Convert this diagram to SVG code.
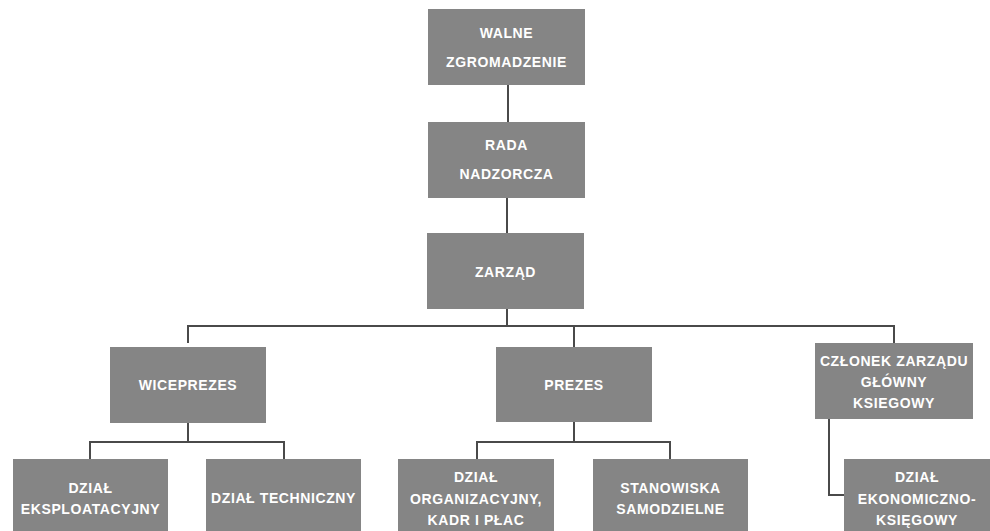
<svg xmlns="http://www.w3.org/2000/svg" width="990" height="531" viewBox="0 0 990 531">
<style>
.box{fill:#858585;}
.t{fill:#ffffff;font-family:"Liberation Sans",Arial,sans-serif;font-weight:bold;font-size:14px;letter-spacing:0.6px;text-anchor:middle;}
.c{fill:none;stroke:#4a4a4a;stroke-width:2;}
</style>
<rect width="990" height="531" fill="#ffffff"/>
<g id="connectors">
<path class="c" d="M508 85V122"/>
<path class="c" d="M507 198V233"/>
<path class="c" d="M507 309V326"/>
<path class="c" d="M188 343V326H894V343"/>
<path class="c" d="M574 326V347"/>
<path class="c" d="M188 423V442"/>
<path class="c" d="M90 459V442H284V459"/>
<path class="c" d="M574 422V442"/>
<path class="c" d="M477 459V442H670V459"/>
<path class="c" d="M829 419V495H844"/>
</g>
<g id="walne">
<rect class="box" x="428" y="9" width="157" height="76"/>
<text class="t" x="506.5" y="38">WALNE</text>
<text class="t" x="506.5" y="67">ZGROMADZENIE</text>
</g>
<g id="rada">
<rect class="box" x="428" y="122" width="157" height="76"/>
<text class="t" x="506.5" y="150">RADA</text>
<text class="t" x="506.5" y="179">NADZORCZA</text>
</g>
<g id="zarzad">
<rect class="box" x="427" y="233" width="157" height="76"/>
<text class="t" x="505.5" y="277">ZARZĄD</text>
</g>
<g id="wiceprezes">
<rect class="box" x="110" y="347" width="156" height="76"/>
<text class="t" x="188" y="390">WICEPREZES</text>
</g>
<g id="prezes">
<rect class="box" x="496" y="347" width="156" height="75"/>
<text class="t" x="574" y="390">PREZES</text>
</g>
<g id="czlonek">
<rect class="box" x="815" y="343" width="158" height="76"/>
<text class="t" x="894" y="366">CZŁONEK ZARZĄDU</text>
<text class="t" x="894" y="387">GŁÓWNY</text>
<text class="t" x="894" y="408">KSIEGOWY</text>
</g>
<g id="eksploatacyjny">
<rect class="box" x="13" y="459" width="155" height="80"/>
<text class="t" x="90.5" y="493">DZIAŁ</text>
<text class="t" x="90.5" y="514">EKSPLOATACYJNY</text>
</g>
<g id="techniczny">
<rect class="box" x="206" y="459" width="155" height="80"/>
<text class="t" x="283.5" y="503">DZIAŁ TECHNICZNY</text>
</g>
<g id="organizacyjny">
<rect class="box" x="398" y="459" width="156" height="80"/>
<text class="t" x="476" y="482">DZIAŁ</text>
<text class="t" x="476" y="504">ORGANIZACYJNY,</text>
<text class="t" x="476" y="525">KADR I PŁAC</text>
</g>
<g id="stanowiska">
<rect class="box" x="593" y="459" width="155" height="80"/>
<text class="t" x="670.5" y="493">STANOWISKA</text>
<text class="t" x="670.5" y="514">SAMODZIELNE</text>
</g>
<g id="ekonomiczno">
<rect class="box" x="844" y="459" width="150" height="80"/>
<text class="t" x="917" y="482">DZIAŁ</text>
<text class="t" x="917" y="504">EKONOMICZNO-</text>
<text class="t" x="917" y="525">KSIĘGOWY</text>
</g>
</svg>
